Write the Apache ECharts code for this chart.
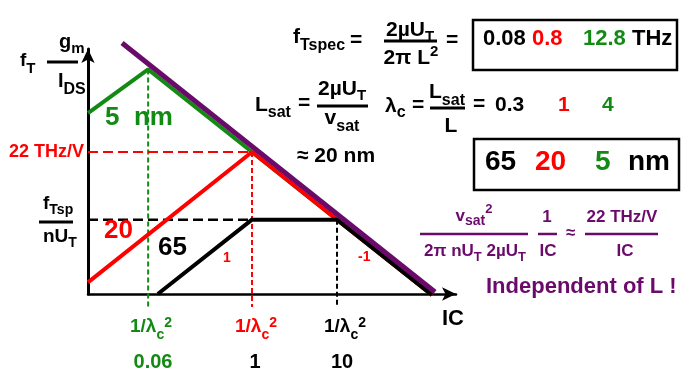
<!DOCTYPE html>
<html><head><meta charset="utf-8">
<script src="https://cdn.jsdelivr.net/npm/echarts@6/dist/echarts.min.js"></script>
<style>html,body{margin:0;padding:0;background:#fff}#chart{width:682px;height:371px}</style>
</head><body><div id="chart"></div>
<script>
// Axis extents: inversion coefficient IC (x) and fT·gm/IDS in THz/V (y), both logarithmic
const icRange = [0.01177, 251];
const ftRange = [0.1749, 735];
// Corner inversion coefficients 1/λc² for the 5 nm, 20 nm and 65 nm devices
const cornerIC = [0.06, 1, 10];
const cornerLabels = ['0.06', '1', '10'];
// Velocity-saturation asymptote, ≈ 22 THz/V divided by IC
const asymptote = [[0.0296, 900], [142, 0.187]];
// fT·gm/IDS versus IC for each channel length
const curve5nm = [[0.01177, 83], [0.06, 367], [1, 22], [10, 2.2], [131, 0.17]];
const curve20nm = [[0.01177, 0.26], [1, 22], [10, 2.2], [131, 0.17]];
const curve65nm = [[0.078, 0.175], [1, 2.2], [10, 2.2], [131, 0.17]];
const peak5nm = 367;      // THz/V at IC = 0.06
const peak20nm = 22;      // THz/V at IC = 1
const plateau65nm = 2.2;  // fTspec / nUT for 65 nm
const dashBottom = 0.112;

const GREEN = '#138a13', RED = '#ff0000', PURPLE = '#6a0a6a', BLACK = '#000000';
const FONT = '"Liberation Sans", Arial, Helvetica, sans-serif';

const chart = echarts.init(document.getElementById('chart'), null, {renderer: 'canvas'});

// text measuring for laying out runs of mixed-size glyphs (subscripts, superscripts)
const mctx = document.createElement('canvas').getContext('2d');
function tw(t, s) { mctx.font = 'bold ' + s + 'px ' + FONT; return mctx.measureText(t).width; }

// parts: [text, size, dy, color]; x is the left edge (or centre/right edge), base is the baseline
function run(x, base, parts, color, align) {
  const widths = parts.map(p => tw(p[0], p[1]));
  const total = widths.reduce((a, b) => a + b, 0);
  let cx = align === 'center' ? x - total / 2 : align === 'right' ? x - total : x;
  const out = [];
  parts.forEach((p, i) => {
    const s = p[1], dy = p[2] || 0;
    out.push({
      type: 'text', z: 100,
      style: {
        x: cx, y: base + dy - 0.3465 * s, text: p[0],
        font: 'bold ' + s + 'px ' + FONT, fill: p[3] || color,
        align: 'left', verticalAlign: 'middle'
      }
    });
    cx += widths[i];
  });
  return out;
}
function hline(x1, x2, y, color, w) {
  return {type: 'line', z: 100, shape: {x1: x1, y1: y, x2: x2, y2: y},
          style: {stroke: color, lineWidth: w || 3}};
}
function box(x, y, w, h) {
  return {type: 'rect', z: 100, shape: {x: x, y: y, width: w, height: h},
          style: {fill: 'none', stroke: BLACK, lineWidth: 2.5}};
}

const g = [];
// y-axis title: fT · gm / IDS
g.push(...run(20, 67, [['f', 19], ['T', 15, 7]], BLACK));
g.push(...run(59, 49, [['g', 20], ['m', 15, 5]], BLACK));
g.push(hline(47, 78, 62, BLACK, 3));
g.push(...run(58, 88, [['I', 20], ['DS', 16, 7]], BLACK));

// fTspec = 2µUT / 2πL² = [0.08 0.8 12.8 THz]
g.push(...run(293, 44, [['f', 21], ['Tspec', 16, 7]], BLACK));
g.push(...run(350, 47, [['=', 21]], BLACK));
g.push(...run(410, 37, [['2µU', 21], ['T', 15, 5]], BLACK, 'center'));
g.push(hline(384, 437, 41, BLACK, 3));
g.push(...run(411, 65, [['2π L', 21], ['2', 15, -8]], BLACK, 'center'));
g.push(...run(446, 47, [['=', 21]], BLACK));
g.push(box(473, 20, 204, 50));
g.push(...run(483, 47, [['0.08', 22]], BLACK));
g.push(...run(532, 47, [['0.8', 22]], RED));
g.push(...run(583, 47, [['12.8', 22]], GREEN));
g.push(...run(632, 47, [['THz', 22]], BLACK));

// Lsat = 2µUT / vsat ;  λc = Lsat / L = 0.3 1 4
g.push(...run(255, 112, [['L', 21], ['sat', 16, 6]], BLACK));
g.push(...run(298, 110, [['=', 21]], BLACK));
g.push(...run(342, 96, [['2µU', 21], ['T', 15, 5]], BLACK, 'center'));
g.push(hline(317, 368, 106, BLACK, 3));
g.push(...run(342, 125, [['v', 21], ['sat', 16, 7]], BLACK, 'center'));
g.push(...run(385, 113, [['λ', 21], ['c', 16, 5]], BLACK));
g.push(...run(412, 112, [['=', 21]], BLACK));
g.push(...run(447, 99, [['L', 21], ['sat', 16, 7]], BLACK, 'center'));
g.push(hline(430, 465, 108, BLACK, 3));
g.push(...run(451, 133, [['L', 21]], BLACK, 'center'));
g.push(...run(473, 111, [['=', 21]], BLACK));
g.push(...run(495, 112, [['0.3', 21]], BLACK));
g.push(...run(558, 112, [['1', 21]], RED));
g.push(...run(602, 112, [['4', 21]], GREEN));
g.push(...run(297, 163, [['≈ 20 nm', 21]], BLACK));

// channel lengths
g.push(box(474, 139, 205, 51));
g.push(...run(485, 172, [['65', 28]], BLACK));
g.push(...run(535, 172, [['20', 28]], RED));
g.push(...run(595, 172, [['5', 28]], GREEN));
g.push(...run(628, 172, [['nm', 28]], BLACK));

// asymptote: vsat² / (2π nUT · 2µUT) · 1/IC ≈ 22 THz/V / IC
g.push(...run(474, 222, [['v', 17], ['sat', 14, 4], ['2', 13, -8]], PURPLE, 'center'));
g.push(hline(420, 528, 234, PURPLE, 2.5));
g.push(...run(475, 257, [['2π nU', 17], ['T', 13, 5], [' 2µU', 17], ['T', 13, 5]], PURPLE, 'center'));
g.push(...run(547, 223, [['1', 17]], PURPLE, 'center'));
g.push(hline(538, 557, 234, PURPLE, 2.5));
g.push(...run(548, 257, [['IC', 17]], PURPLE, 'center'));
g.push(...run(566, 239, [['≈', 17]], PURPLE));
g.push(...run(622, 223, [['22 THz/V', 17]], PURPLE, 'center'));
g.push(hline(585, 658, 234, PURPLE, 2.5));
g.push(...run(625, 257, [['IC', 17]], PURPLE, 'center'));
g.push(...run(486, 295, [['Independent of L !', 22]], PURPLE));

// labels in the plot area
g.push(...run(84, 158, [['22 THz/V', 18]], RED, 'right'));
g.push(...run(43, 210, [['f', 19], ['Tsp', 14, 5]], BLACK));
g.push(hline(39, 73, 222, BLACK, 3));
g.push(...run(43, 243, [['nU', 19], ['T', 14, 5]], BLACK));
g.push(...run(105, 127, [['5  nm', 26]], GREEN));
g.push(...run(104, 240, [['20', 26]], RED));
g.push(...run(158, 257, [['65', 26]], BLACK));
g.push(...run(223, 263, [['1', 14]], RED));
g.push(...run(358, 262, [['-1', 14]], RED));

// corner labels under the axis
const cornerColors = [GREEN, RED, BLACK];
const cornerLabelX = [151, 256, 345];
const cornerValueX = [153, 255, 342];
cornerIC.forEach((ic, i) => {
  g.push(...run(cornerLabelX[i], 333, [['1/λ', 19], ['c', 14, 7], ['2', 14, -5]], cornerColors[i], 'center'));
  g.push(...run(cornerValueX[i], 369, [[cornerLabels[i], 20]], i === 0 ? GREEN : BLACK, 'center'));
});
g.push(...run(442, 327, [['IC', 22]], BLACK));

function lineSeries(data, color, width, z, dash) {
  return {
    type: 'line', data: data, showSymbol: false, symbol: 'none', clip: false, z: z,
    animation: false, silent: true,
    lineStyle: {color: color, width: width, type: dash || 'solid', cap: 'butt'}
  };
}

const longDash = [10, 5], shortDash = [5, 3];
const series = [
  lineSeries([[cornerIC[0], peak5nm], [cornerIC[0], dashBottom]], GREEN, 2, 2, shortDash),
  lineSeries([[icRange[0], peak20nm], [cornerIC[1], peak20nm]], RED, 2, 2, longDash),
  lineSeries([[cornerIC[1], peak20nm], [cornerIC[1], dashBottom]], RED, 2, 2, shortDash),
  lineSeries([[icRange[0], plateau65nm], [cornerIC[1], plateau65nm]], BLACK, 2.5, 2, longDash),
  lineSeries([[cornerIC[2], plateau65nm], [cornerIC[2], dashBottom]], BLACK, 2, 2, shortDash),
  lineSeries(curve5nm, GREEN, 4, 3),
  lineSeries(curve20nm, RED, 4, 4),
  lineSeries(curve65nm, BLACK, 4, 5),
  lineSeries(asymptote, PURPLE, 5, 6)
];

function axis(range, width) {
  return {
    type: 'log', logBase: 10, min: range[0], max: range[1],
    axisLabel: {show: false}, axisTick: {show: false}, splitLine: {show: false},
    axisLine: {show: true, symbol: ['none', 'arrow'], symbolSize: [10, 14],
               lineStyle: {color: BLACK, width: width}}
  };
}

chart.setOption({
  animation: false,
  backgroundColor: '#ffffff',
  grid: {left: 88, top: 49, width: 368, height: 245},
  xAxis: axis(icRange, 2.5),
  yAxis: axis(ftRange, 3),
  series: series,
  graphic: g
});
</script></body></html>
